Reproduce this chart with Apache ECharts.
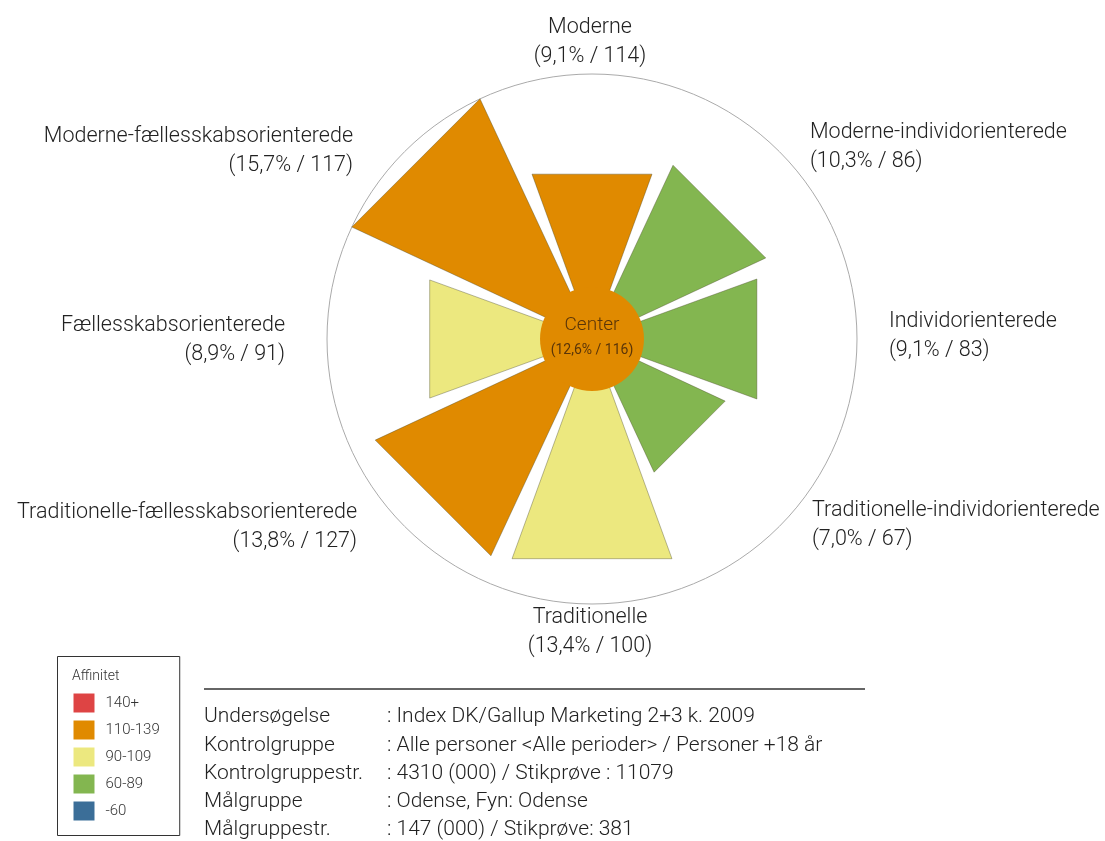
<!DOCTYPE html>
<html lang="da">
  <head>
    <meta charset="UTF-8" />
    <title>Affinitet</title>
    <script src="https://cdn.jsdelivr.net/npm/echarts@6/dist/echarts.min.js"></script>
  </head>
  <style>
    html,
    body {
      margin: 0;
      padding: 0;
      background: #fff;
    }
    #echart {
      width: 1105px;
      height: 841px;
    }
  </style>
  <body>
    <div id="echart"></div>
  </body>
  <script>
    // segmenter, med uret fra toppen
    const categories = [
      "Moderne",
      "Moderne-individorienterede",
      "Individorienterede",
      "Traditionelle-individorienterede",
      "Traditionelle",
      "Traditionelle-fællesskabsorienterede",
      "Fællesskabsorienterede",
      "Moderne-fællesskabsorienterede",
    ];
    const shares = [9.1, 10.3, 9.1, 7.0, 13.4, 13.8, 8.9, 15.7];
    const affinity = [114, 86, 83, 67, 100, 127, 91, 117];
    const centerShare = 12.6;
    const centerAffinity = 116;

    const affinityLabels = ["-60", "60-89", "90-109", "110-139", "140+"];
    const affinityColors = ["#3b6e98", "#83b650", "#ece87f", "#e08a00", "#de4444"];

    const infoKeys = ["Undersøgelse", "Kontrolgruppe", "Kontrolgruppestr.", "Målgruppe", "Målgruppestr."];
    const infoValues = [
      ": Index DK/Gallup Marketing 2+3 k. 2009",
      ": Alle personer <Alle perioder> / Personer +18 år",
      ": 4310 (000) / Stikprøve : 11079",
      ": Odense, Fyn: Odense",
      ": 147 (000) / Stikprøve: 381",
    ];

    // label placering [x, y første linje, align]
    const labelLayout = [
      [590, 28, "center"],
      [810, 133, "left"],
      [889, 322, "left"],
      [812, 511, "left"],
      [590, 618, "center"],
      [357, 513, "right"],
      [285, 326, "right"],
      [353, 137, "right"],
    ];

    const fmt = (v) => v.toFixed(1).replace(".", ",");
    const FONT = "Roboto";
    const halfAngle = 20;

    const chart = echarts.init(document.getElementById("echart"));

    const graphic = [];
    categories.forEach((name, i) => {
      const [x, y, align] = labelLayout[i];
      graphic.push({
        type: "text",
        position: [x, y - 14.5],
        style: {
          text: name + "\n(" + fmt(shares[i]) + "% / " + affinity[i] + ")",
          fontFamily: FONT,
          fontWeight: 300,
          fontSize: 21.5,
          lineHeight: 29,
          fill: "#222",
          align: align,
          verticalAlign: "top",
        },
      });
    });
    graphic.push({
      type: "line",
      shape: { x1: 204, y1: 689, x2: 865, y2: 689 },
      style: { stroke: "#333", lineWidth: 1.5 },
    });
    infoKeys.forEach((k, i) => {
      graphic.push({
        type: "text",
        position: [204, 717 + i * 28.3],
        style: { text: k, fontFamily: FONT, fontWeight: 300, fontSize: 21, fill: "#222", verticalAlign: "middle" },
      });
      graphic.push({
        type: "text",
        position: [387, 717 + i * 28.3],
        style: { text: infoValues[i], fontFamily: FONT, fontWeight: 300, fontSize: 21, fill: "#222", verticalAlign: "middle" },
      });
    });
    // legend titel
    graphic.push({
      type: "text",
      position: [72, 676],
      z: 100,
      style: { text: "Affinitet", fontFamily: FONT, fontWeight: 300, fontSize: 14, fill: "#333", verticalAlign: "middle" },
    });

    const option = {
      animation: false,
      polar: {
        center: [592, 339],
        radius: 265,
      },
      angleAxis: {
        type: "value",
        min: 0,
        max: 360,
        startAngle: 90,
        clockwise: true,
        axisLine: { show: true, lineStyle: { color: "#aaa", width: 1 } },
        axisTick: { show: false },
        axisLabel: { show: false },
        splitLine: { show: false },
      },
      radiusAxis: {
        type: "value",
        min: -3.83,
        max: 15.7,
        axisLine: { show: false },
        axisTick: { show: false },
        axisLabel: { show: false },
        splitLine: { show: false },
      },
      visualMap: {
        type: "piecewise",
        seriesIndex: [0, 1],
        dimension: 2,
        left: 57,
        top: 656,
        orient: "vertical",
        pieces: [
          { lt: 60, label: affinityLabels[0], color: affinityColors[0] },
          { gte: 60, lt: 90, label: affinityLabels[1], color: affinityColors[1] },
          { gte: 90, lt: 110, label: affinityLabels[2], color: affinityColors[2] },
          { gte: 110, lt: 140, label: affinityLabels[3], color: affinityColors[3] },
          { gte: 140, label: affinityLabels[4], color: affinityColors[4] },
        ],
        itemWidth: 21,
        itemHeight: 19,
        itemGap: 8,
        textGap: 11,
        itemSymbol: "rect",
        padding: [37, 20, 15, 16],
        borderColor: "#333",
        borderWidth: 1,
        backgroundColor: "#fff",
        hoverLink: false,
        selectedMode: false,
        textStyle: { fontFamily: FONT, fontWeight: 300, fontSize: 15, color: "#333" },
      },
      graphic: graphic,
      series: [
        {
          type: "custom",
          coordinateSystem: "polar",
          data: categories.map((c, i) => [shares[i], i * 45, affinity[i]]),
          renderItem: function (params, api) {
            const v = api.value(0);
            const a = api.value(1);
            const cs = params.coordSys;
            const p1 = api.coord([v, a - halfAngle]);
            const p2 = api.coord([v, a + halfAngle]);
            return {
              type: "polygon",
              shape: { points: [[cs.cx, cs.cy], p1, p2] },
              style: {
                fill: api.visual("color"),
                stroke: "rgba(70,70,40,0.55)",
                lineWidth: 0.7,
              },
            };
          },
          z: 2,
        },
        {
          type: "custom",
          coordinateSystem: "polar",
          data: [[centerShare, 0, centerAffinity]],
          renderItem: function (params, api) {
            const cs = params.coordSys;
            const edge = api.coord([0, 0]);
            const r = Math.hypot(edge[0] - cs.cx, edge[1] - cs.cy);
            return {
              type: "group",
              children: [
                {
                  type: "circle",
                  shape: { cx: cs.cx, cy: cs.cy, r: r },
                  style: { fill: api.visual("color") },
                },
                {
                  type: "text",
                  x: cs.cx,
                  y: cs.cy - 14,
                  style: {
                    text: "Center",
                    fontFamily: FONT,
                    fontWeight: 300,
                    fontSize: 19,
                    fill: "#5a3508",
                    align: "center",
                    verticalAlign: "middle",
                  },
                },
                {
                  type: "text",
                  x: cs.cx,
                  y: cs.cy + 11,
                  style: {
                    text: "(" + fmt(api.value(0)) + "% / " + api.value(2) + ")",
                    fontFamily: FONT,
                    fontSize: 14,
                    fill: "#5a3508",
                    align: "center",
                    verticalAlign: "middle",
                  },
                },
              ],
            };
          },
          z: 3,
        },
      ],
    };
    chart.setOption(option);
  </script>
</html>
